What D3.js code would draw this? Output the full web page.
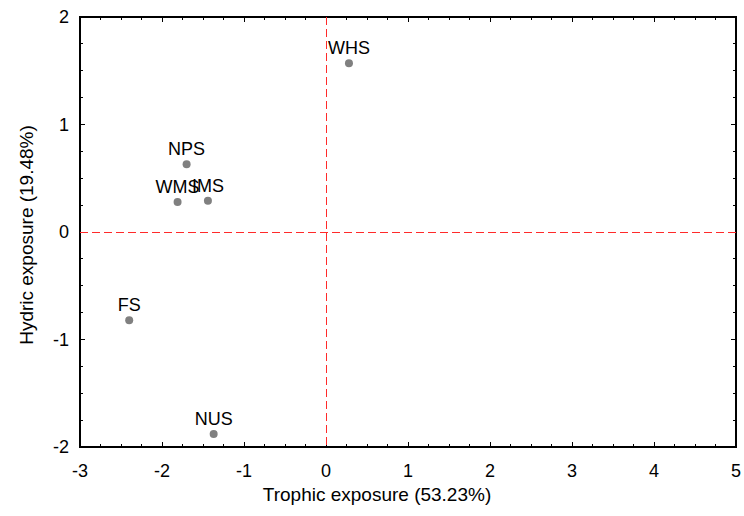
<!DOCTYPE html>
<html>
<head>
<meta charset="utf-8">
<script src="https://cdn.jsdelivr.net/npm/d3@7"></script>
<style>
  body { margin: 0; background: #fff; }
  text { font-family: "Liberation Sans", Arial, sans-serif; }
</style>
</head>
<body>
<div id="chart"></div>
<script>

// site labels and their coordinates on the two axes
var sites = ["WHS", "NPS", "WMS", "IMS", "FS", "NUS"];
var trophic = [0.28, -1.70, -1.81, -1.44, -2.40, -1.37];
var hydric = [1.57, 0.63, 0.28, 0.29, -0.82, -1.88];

var xTicks = [-3, -2, -1, 0, 1, 2, 3, 4, 5];
var yTicks = [-2, -1, 0, 1, 2];

var xTitle = "Trophic exposure (53.23%)";
var yTitle = "Hydric exposure (19.48%)";

// set the dimensions and margins of the graph
var margin = {top: 17, right: 8, bottom: 69, left: 80},
    width = 744 - margin.left - margin.right,
    height = 516 - margin.top - margin.bottom;

var svg = d3.select("#chart")
  .append("svg")
    .attr("width", 744)
    .attr("height", 516)
  .append("g")
    .attr("transform", "translate(" + margin.left + "," + margin.top + ")");

var x = d3.scaleLinear().domain([-3, 5]).range([0, width]);
var y = d3.scaleLinear().domain([-2, 2]).range([height, 0]);

// minor ticks every 0.25
var xMinor = d3.range(-3, 5.001, 0.25);
var yMinor = d3.range(-2, 2.001, 0.25);

function isMajor(v) { return Math.abs(v - Math.round(v)) < 1e-6; }

// ticks on all four sides, pointing inward
var ticks = svg.append("g")
  .attr("stroke", "#000")
  .attr("stroke-width", 1)
  .attr("shape-rendering", "crispEdges");
xMinor.forEach(function(v) {
  var len = isMajor(v) ? 5 : 3;
  ticks.append("line").attr("x1", x(v)).attr("x2", x(v)).attr("y1", height).attr("y2", height - len);
  ticks.append("line").attr("x1", x(v)).attr("x2", x(v)).attr("y1", 0).attr("y2", len);
});
yMinor.forEach(function(v) {
  var len = isMajor(v) ? 5 : 3;
  ticks.append("line").attr("y1", y(v)).attr("y2", y(v)).attr("x1", 0).attr("x2", len);
  ticks.append("line").attr("y1", y(v)).attr("y2", y(v)).attr("x1", width).attr("x2", width - len);
});

// frame
svg.append("rect")
  .attr("x", 0).attr("y", 0)
  .attr("width", width).attr("height", height)
  .attr("fill", "none")
  .attr("stroke", "#000")
  .attr("stroke-width", 2)
  .attr("shape-rendering", "crispEdges");

// tick labels
svg.selectAll(".xlab")
  .data(xTicks)
  .enter().append("text")
    .attr("x", function(d) { return x(d); })
    .attr("y", height + 30)
    .attr("text-anchor", "middle")
    .attr("font-size", 18)
    .text(function(d) { return d; });

svg.selectAll(".ylab")
  .data(yTicks)
  .enter().append("text")
    .attr("x", -11)
    .attr("y", function(d) { return y(d) + 6; })
    .attr("text-anchor", "end")
    .attr("font-size", 18)
    .text(function(d) { return d; });

// axis titles
svg.append("text")
  .attr("x", 297)
  .attr("y", height + 54)
  .attr("text-anchor", "middle")
  .attr("font-size", 19)
  .text(xTitle);

svg.append("text")
  .attr("transform", "translate(-47," + (height / 2 + 3) + ") rotate(-90)")
  .attr("text-anchor", "middle")
  .attr("font-size", 19)
  .text(yTitle);

// red dashed zero lines
svg.append("line")
  .attr("x1", 0).attr("x2", width)
  .attr("y1", y(0)).attr("y2", y(0))
  .attr("stroke", "#ff2a2a")
  .attr("stroke-dasharray", "8,4")
  .attr("shape-rendering", "crispEdges");
svg.append("line")
  .attr("x1", x(0)).attr("x2", x(0))
  .attr("y1", 0).attr("y2", height)
  .attr("stroke", "#ff2a2a")
  .attr("stroke-dasharray", "8,4")
  .attr("shape-rendering", "crispEdges");

// points and labels
var data = sites.map(function(s, i) { return {name: s, tx: trophic[i], hy: hydric[i]}; });

svg.selectAll("circle")
  .data(data)
  .enter().append("circle")
    .attr("cx", function(d) { return x(d.tx); })
    .attr("cy", function(d) { return y(d.hy); })
    .attr("r", 4)
    .attr("fill", "#808080");

svg.selectAll(".plab")
  .data(data)
  .enter().append("text")
    .attr("x", function(d) { return x(d.tx); })
    .attr("y", function(d) { return y(d.hy) - 9; })
    .attr("text-anchor", "middle")
    .attr("font-size", 18)
    .attr("fill", "#000")
    .text(function(d) { return d.name; });

</script>
</body>
</html>
